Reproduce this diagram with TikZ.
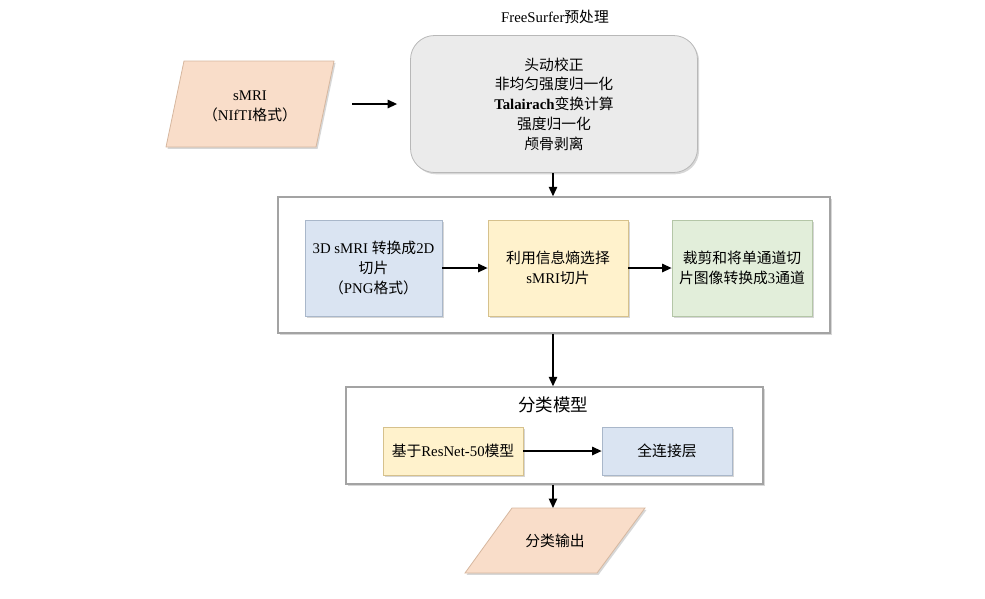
\documentclass[tikz,border=0pt]{standalone}
\usepackage{fontspec}
\setmainfont{Liberation Serif}
\newfontfamily\cjk{Noto Sans CJK SC}
\usetikzlibrary{arrows.meta,shadows,calc}
\newcommand{\zh}[1]{{\cjk #1}}
\definecolor{greyfill}{HTML}{EBEBEB}
\definecolor{greydraw}{HTML}{B8B8B8}
\definecolor{peachfill}{HTML}{F9DDC9}
\definecolor{peachdraw}{HTML}{D6B79F}
\definecolor{bluefill}{HTML}{DAE4F2}
\definecolor{bluedraw}{HTML}{A9B7CA}
\definecolor{yellowfill}{HTML}{FFF2CC}
\definecolor{yellowdraw}{HTML}{D6C18C}
\definecolor{greenfill}{HTML}{E2EEDA}
\definecolor{greendraw}{HTML}{B4C6A7}
\definecolor{framegray}{HTML}{A3A3A3}
\begin{document}
\begin{tikzpicture}[x=1pt,y=-1pt,
  txt/.style={font=\fontsize{14.8}{19.8}\selectfont, align=center, inner sep=0pt},
  shad/.style={drop shadow={shadow xshift=1.6pt,shadow yshift=-1.8pt,fill=black!35,opacity=0.45}},
  frame/.style={draw=framegray, line width=1.5pt, fill=white, inner sep=0pt, shad},
  boxstyle/.style={txt, draw=#1draw, fill=#1fill, line width=0.8pt, shad},
  arr/.style={line width=1.3pt, -{Triangle[length=9.5pt,width=8.5pt]}}]
\useasboundingbox (0,0) rectangle (985,598);

% title
\node[txt] (title) at (555,17) {FreeSurfer\zh{预处理}};

% sMRI input
\draw[fill=peachfill, draw=peachdraw, line width=0.8pt, shad]
  (184,61) -- (334,61) -- (316,147) -- (166,147) -- cycle;
\node[txt] (smri) at (250,106) {sMRI\\\zh{（}NIfTI\zh{格式）}};

% FreeSurfer box
\node[boxstyle=grey, rounded corners=24pt, minimum width=287pt, minimum height=137pt] (grey) at (554,104)
  {\zh{头动校正}\\\zh{非均匀强度归一化}\\\textbf{Talairach}\zh{变换计算}\\\zh{强度归一化}\\\zh{颅骨剥离}};

\coordinate (smriR) at (352,104);
\draw[arr, shorten >=13pt] (smriR) -- (grey.west |- smriR);

% slice frame
\node[frame, minimum width=552pt, minimum height=136pt] (outer1) at (554,265) {};
\node[boxstyle=blue, minimum width=137pt, minimum height=96pt] (b1) at (373.5,268)
  {3D sMRI \zh{转换成}2D\\\zh{切片}\\\zh{（}PNG\zh{格式）}};
\node[boxstyle=yellow, minimum width=140pt, minimum height=96pt] (b2) at (558,268)
  {\zh{利用信息熵选择}\\sMRI\zh{切片}};
\node[boxstyle=green, minimum width=140pt, minimum height=96pt] (b3) at (742,268)
  {\zh{裁剪和将单通道切}\\\zh{片图像转换成}3\zh{通道}};

\draw[arr] (grey.south -| 553,0) -- (553,0 |- outer1.north);
\draw[arr] (b1.east) -- (b2.west);
\draw[arr] (b2.east) -- (b3.west);

% classification frame
\node[frame, minimum width=417pt, minimum height=97pt] (outer2) at (554.5,435.5) {};
\node[txt, font=\fontsize{17.5}{20}\selectfont] (cls) at (553,405) {\zh{分类模型}};
\node[boxstyle=yellow, minimum width=140pt, minimum height=48pt] (c1) at (453,451)
  {\zh{基于}ResNet-50\zh{模型}};
\node[boxstyle=blue, minimum width=130pt, minimum height=48pt] (c2) at (667,451)
  {\zh{全连接层}};
\draw[arr] (c1.east) -- (c2.west);

\draw[arr] (outer1.south -| 553,0) -- (553,0 |- outer2.north);

% output
\draw[fill=peachfill, draw=peachdraw, line width=0.8pt, shad]
  (512,508) -- (645,508) -- (597,573) -- (465,573) -- cycle;
\node[txt] (out) at (555,541) {\zh{分类输出}};
\coordinate (outTop) at (553,508);
\draw[arr] (outer2.south -| outTop) -- (outTop);
\end{tikzpicture}
\end{document}
